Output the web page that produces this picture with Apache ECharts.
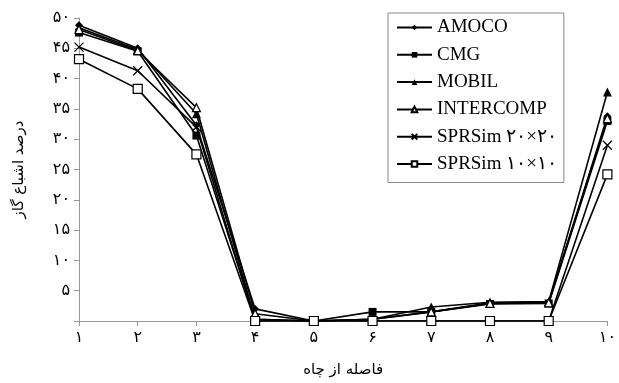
<!DOCTYPE html>
<html><head><meta charset="utf-8">
<script src="https://cdn.jsdelivr.net/npm/echarts@6/dist/echarts.min.js"></script>
<style>html,body{margin:0;padding:0;background:#fff}#c{width:619px;height:383px}</style>
</head><body><div id="c"></div>
<script>
const categories = ['۱','۲','۳','۴','۵','۶','۷','۸','۹','۱۰'];
const yTickLabels = {5:'۵',10:'۱۰',15:'۱۵',20:'۲۰',25:'۲۵',30:'۳۰',35:'۳۵',40:'۴۰',45:'۴۵',50:'۵۰'};
const amoco     = [48.8, 45.0, 32.3, 2.0, 0, 0.3, 1.5, 3.0, 3.1, 33.8];
const cmg       = [47.6, 44.5, 30.6, 0.3, 0, 1.5, 1.5, 2.8, 2.9, 33.0];
const mobil     = [48.4, 44.8, 34.2, 0.3, 0, 0.3, 2.3, 3.1, 3.2, 37.8];
const intercomp = [48.1, 44.6, 35.2, 1.2, 0, 0.3, 1.5, 2.9, 3.0, 33.4];
const sprs20    = [45.2, 41.3, 32.0, 0, 0, 0, 0, 0, 0, 29.0];
const sprs10    = [43.2, 38.3, 27.5, 0, 0, 0, 0, 0, 0, 24.2];
const seriesNames = ['AMOCO','CMG','MOBIL','INTERCOMP','SPRSim ۲۰×۲۰','SPRSim ۱۰×۱۰'];

const chart = echarts.init(document.getElementById('c'));
function mk(name, data, symbol, size, open) {
  return {
    name, type: 'line', data, symbol, symbolSize: size,
    lineStyle: {color: '#000', width: 1.6},
    itemStyle: open ? {color: '#fff', borderColor: '#000', borderWidth: 1.2}
                    : {color: '#000', borderColor: '#000', borderWidth: 0},
    emphasis: {disabled: true}, animation: false
  };
}
const cross = 'path://M0,0L10,10M10,0L0,10';
const series = [
  mk(seriesNames[0], amoco, 'diamond', 8, false),
  mk(seriesNames[1], cmg, 'rect', 8, false),
  mk(seriesNames[2], mobil, 'triangle', 9, false),
  mk(seriesNames[3], intercomp, 'triangle', 8, true),
  Object.assign(mk(seriesNames[4], sprs20, cross, 9, true), {itemStyle:{color:'none',borderColor:'#000',borderWidth:1.3}}),
  mk(seriesNames[5], sprs10, 'rect', 9, true)
];
chart.setOption({
  animation: false,
  backgroundColor: '#fff',
  grid: {left: 79, right: 7, top: 18, bottom: 61},
  legend: {
    orient: 'vertical', left: 388, top: 13,
    data: seriesNames,
    itemWidth: 35, itemHeight: 7, itemGap: 8.3,
    padding: [5, 7, 9, 8],
    borderColor: '#888', borderWidth: 1,
    textStyle: {fontFamily: 'Liberation Serif', fontSize: 19, color: '#000'}
  },
  xAxis: {
    type: 'category', data: categories, boundaryGap: false,
    name: 'فاصله از چاه', nameLocation: 'middle', nameGap: 42,
    nameTextStyle: {fontFamily: 'DejaVu Sans', fontSize: 15, color: '#000'},
    axisLine: {lineStyle: {color: '#999', width: 1}},
    axisTick: {show: true, length: 5, lineStyle: {color: '#999'}},
    axisLabel: {fontFamily: 'DejaVu Sans', fontSize: 16, color: '#000', margin: 9},
    splitLine: {show: false}
  },
  yAxis: {
    type: 'value', min: 0, max: 50, interval: 5,
    name: 'درصد اشباع گاز', nameLocation: 'middle', nameGap: 52, nameRotate: 90,
    nameTextStyle: {fontFamily: 'DejaVu Sans', fontSize: 15, color: '#000'},
    axisLine: {show: true, lineStyle: {color: '#999', width: 1}},
    axisTick: {show: true, length: 5, lineStyle: {color: '#999'}},
    axisLabel: {fontFamily: 'DejaVu Sans', fontSize: 16, color: '#000', margin: 9,
      formatter: v => yTickLabels[v] || ''},
    splitLine: {show: false}
  },
  series
});
</script></body></html>
